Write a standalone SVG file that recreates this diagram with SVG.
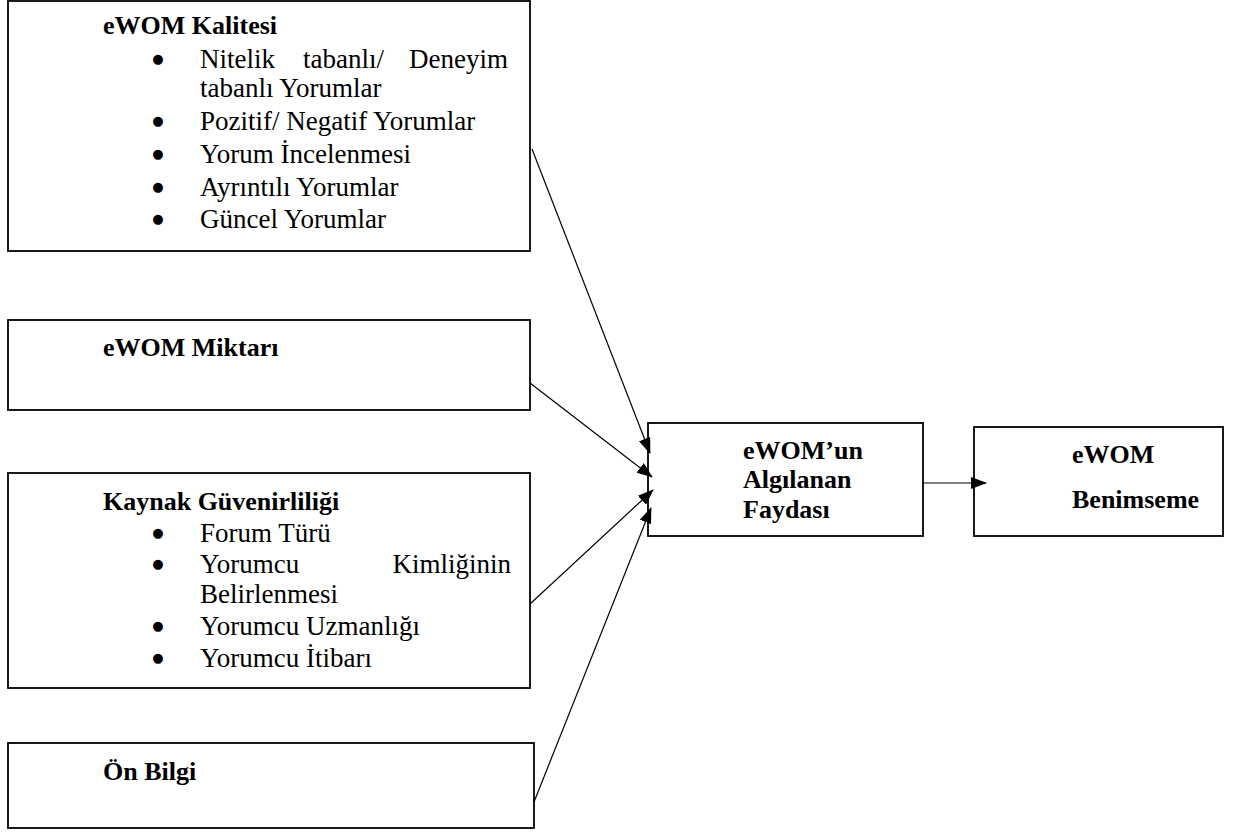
<svg xmlns="http://www.w3.org/2000/svg" width="1237" height="832" viewBox="0 0 1237 832">
<defs>
<marker id="ah" markerUnits="userSpaceOnUse" markerWidth="16" markerHeight="12" viewBox="0 0 16 12" refX="15" refY="6" orient="auto">
<path d="M0,0 L16,6 L0,12 Z" fill="#000"/>
</marker>
</defs>
<style>
.box{fill:#fff;stroke:#000;stroke-width:1.8}
.t{font-family:"Liberation Serif","Times New Roman",serif;font-size:27px;fill:#000}
.b{font-weight:bold;font-size:26px}
.d{font-family:"DejaVu Sans",sans-serif;font-size:13px;fill:#000;text-anchor:middle}
.c{stroke:#000;stroke-width:1.2;fill:none}
</style>
<rect width="1237" height="832" fill="#fff"/>
<g id="kalite">
<rect class="box" x="8" y="1" width="522" height="250"/>
<text class="t b" x="103" y="34">eWOM Kalitesi</text>
<text class="d" x="158" y="63">●</text>
<text class="t" x="200" y="68">Nitelik</text>
<text class="t" x="303" y="68">tabanlı/</text>
<text class="t" x="508" y="68" text-anchor="end">Deneyim</text>
<text class="t" x="200" y="97">tabanlı Yorumlar</text>
<text class="d" x="158" y="125">●</text>
<text class="t" x="200" y="130">Pozitif/ Negatif Yorumlar</text>
<text class="d" x="158" y="158">●</text>
<text class="t" x="200" y="163">Yorum İncelenmesi</text>
<text class="d" x="158" y="191">●</text>
<text class="t" x="200" y="196">Ayrıntılı Yorumlar</text>
<text class="d" x="158" y="223">●</text>
<text class="t" x="200" y="228">Güncel Yorumlar</text>
</g>
<g id="miktar">
<rect class="box" x="8" y="320" width="522" height="90"/>
<text class="t b" x="103" y="356">eWOM Miktarı</text>
</g>
<g id="kaynak">
<rect class="box" x="8" y="473" width="522" height="215"/>
<text class="t b" x="103" y="510">Kaynak Güvenirliliği</text>
<text class="d" x="158" y="537">●</text>
<text class="t" x="200" y="542">Forum Türü</text>
<text class="d" x="158" y="568">●</text>
<text class="t" x="200" y="573">Yorumcu</text>
<text class="t" x="511" y="573" text-anchor="end">Kimliğinin</text>
<text class="t" x="200" y="603">Belirlenmesi</text>
<text class="d" x="158" y="630">●</text>
<text class="t" x="200" y="635">Yorumcu Uzmanlığı</text>
<text class="d" x="158" y="662">●</text>
<text class="t" x="200" y="667">Yorumcu İtibarı</text>
</g>
<g id="onbilgi">
<rect class="box" x="8" y="743" width="526" height="85"/>
<text class="t b" x="103" y="780">Ön Bilgi</text>
</g>
<g id="fayda">
<rect class="box" x="648" y="423" width="275" height="113"/>
<text class="t b" x="743" y="459">eWOM’un</text>
<text class="t b" x="743" y="488">Algılanan</text>
<text class="t b" x="743" y="518">Faydası</text>
</g>
<g id="benimseme">
<rect class="box" x="974" y="427" width="249" height="109"/>
<text class="t b" x="1072" y="463">eWOM</text>
<text class="t b" x="1072" y="508">Benimseme</text>
</g>
<g id="connectors">
<line class="c" x1="532" y1="149" x2="650" y2="453" marker-end="url(#ah)"/>
<line class="c" x1="530" y1="383" x2="652" y2="477" marker-end="url(#ah)"/>
<line class="c" x1="530" y1="604" x2="653" y2="490" marker-end="url(#ah)"/>
<line class="c" x1="534" y1="802" x2="651" y2="508" marker-end="url(#ah)"/>
<line class="c" x1="923" y1="483" x2="986" y2="483" marker-end="url(#ah)"/>
</g>
</svg>
